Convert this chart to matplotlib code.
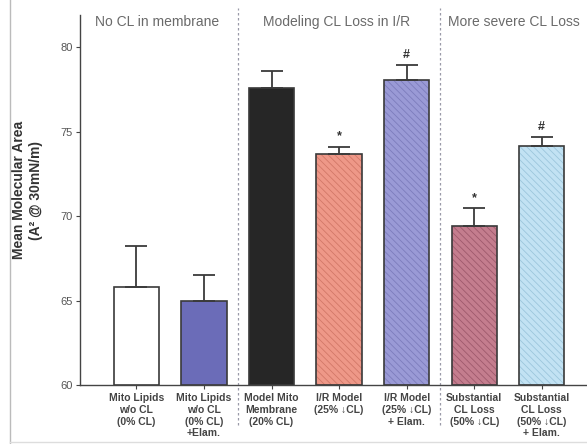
import matplotlib
matplotlib.use('Agg')
import matplotlib.pyplot as plt
from matplotlib.lines import Line2D

plt.rcParams['font.family'] = ['Liberation Sans', 'DejaVu Sans']
plt.rcParams['hatch.linewidth'] = 0.6

categories = [
    "Mito Lipids\nw/o CL\n(0% CL)",
    "Mito Lipids\nw/o CL\n(0% CL)\n+Elam.",
    "Model Mito\nMembrane\n(20% CL)",
    "I/R Model\n(25% ↓CL)",
    "I/R Model\n(25% ↓CL)\n+ Elam.",
    "Substantial\nCL Loss\n(50% ↓CL)",
    "Substantial\nCL Loss\n(50% ↓CL)\n+ Elam.",
]
means = [65.8, 65.0, 77.6, 73.7, 78.05, 69.4, 74.15]
errors = [2.4, 1.5, 1.0, 0.4, 0.9, 1.05, 0.5]
annotations = ['', '', '', '*', '#', '*', '#']
group_titles = ['No CL in membrane', 'Modeling CL Loss in I/R', 'More severe CL Loss']
group_title_x = [-0.61, 1.87, 4.61]
separators = [1.5, 4.5]
yticks = [60, 65, 70, 75, 80]

face_colors = ['#ffffff', '#6b6cb8', '#262626', '#ee9888', '#9a9ad6', '#c47d8e', '#c2e2f3']
hatch_colors = [None, None, None, '#d27868', '#7c7cbc', '#9e5a6c', '#9cc6dc']

fig = plt.figure(figsize=(5.87, 4.44), dpi=100)
ax = fig.add_axes([80 / 587, 1 - 385 / 444, 1 - 80 / 587, 370 / 444])

x = list(range(len(categories)))
width = 0.67
for i in x:
    if hatch_colors[i] is not None:
        ax.bar(i, means[i] - 60, width, bottom=60, color=face_colors[i],
               edgecolor=hatch_colors[i], hatch='\\' * 5, linewidth=0, zorder=2)
        ax.bar(i, means[i] - 60, width, bottom=60, facecolor='none',
               edgecolor='#3a3a3a', linewidth=1.2, zorder=3)
    else:
        ax.bar(i, means[i] - 60, width, bottom=60, color=face_colors[i],
               edgecolor='#3a3a3a', linewidth=1.2, zorder=3)

ax.errorbar(x, means, yerr=[[0] * len(x), errors], fmt='none', ecolor='#3a3a3a',
            elinewidth=1.3, capsize=8, capthick=1.3, zorder=4)

for i, a in enumerate(annotations):
    if a:
        ax.text(i, means[i] + errors[i] + 0.25, a, ha='center', va='bottom',
                fontsize=9, fontweight='bold', color='#333333')

for s in separators:
    ax.add_line(Line2D([s, s], [-0.108, 1.02], transform=ax.get_xaxis_transform(),
                       color='#9a9aa8', linestyle=(0, (2, 2)), linewidth=0.9,
                       clip_on=False, zorder=1))

for t, gx in zip(group_titles, group_title_x):
    ax.text(gx, 0.981, t, transform=ax.get_xaxis_transform(), ha='left', va='center',
            fontsize=10, color='#6a6a6a', clip_on=False)

ax.set_xlim(-0.836, 6.67)
ax.set_ylim(60, 81.9)
ax.set_yticks(yticks)
ax.set_yticklabels([str(v) for v in yticks], fontsize=8, color='#555555')
ax.set_xticks(x)
ax.set_xticklabels(categories, fontsize=7.5, fontweight='bold', color='#444444',
                   linespacing=1.2)
ax.tick_params(axis='both', length=3, width=0.8, color='#444444')
ax.tick_params(axis='x', pad=3)
ax.tick_params(axis='y', pad=2)

for sp in ['top', 'right']:
    ax.spines[sp].set_visible(False)
for sp in ['left', 'bottom']:
    ax.spines[sp].set_color('#444444')
    ax.spines[sp].set_linewidth(1.0)

ax.set_ylabel("Mean Molecular Area\n(A² @ 30mN/m)", fontsize=10, fontweight='bold',
              color='#333333', linespacing=1.3)
ax.yaxis.set_label_coords(-0.072, 0.527)

fig.add_artist(Line2D([10 / 587, 10 / 587], [0, 1], transform=fig.transFigure,
                      color='#bbbbbb', linewidth=1.0))
fig.add_artist(Line2D([10 / 587, 1], [2 / 444, 2 / 444], transform=fig.transFigure,
                      color='#dddddd', linewidth=1.0))

fig.savefig('out.png', dpi=100)
